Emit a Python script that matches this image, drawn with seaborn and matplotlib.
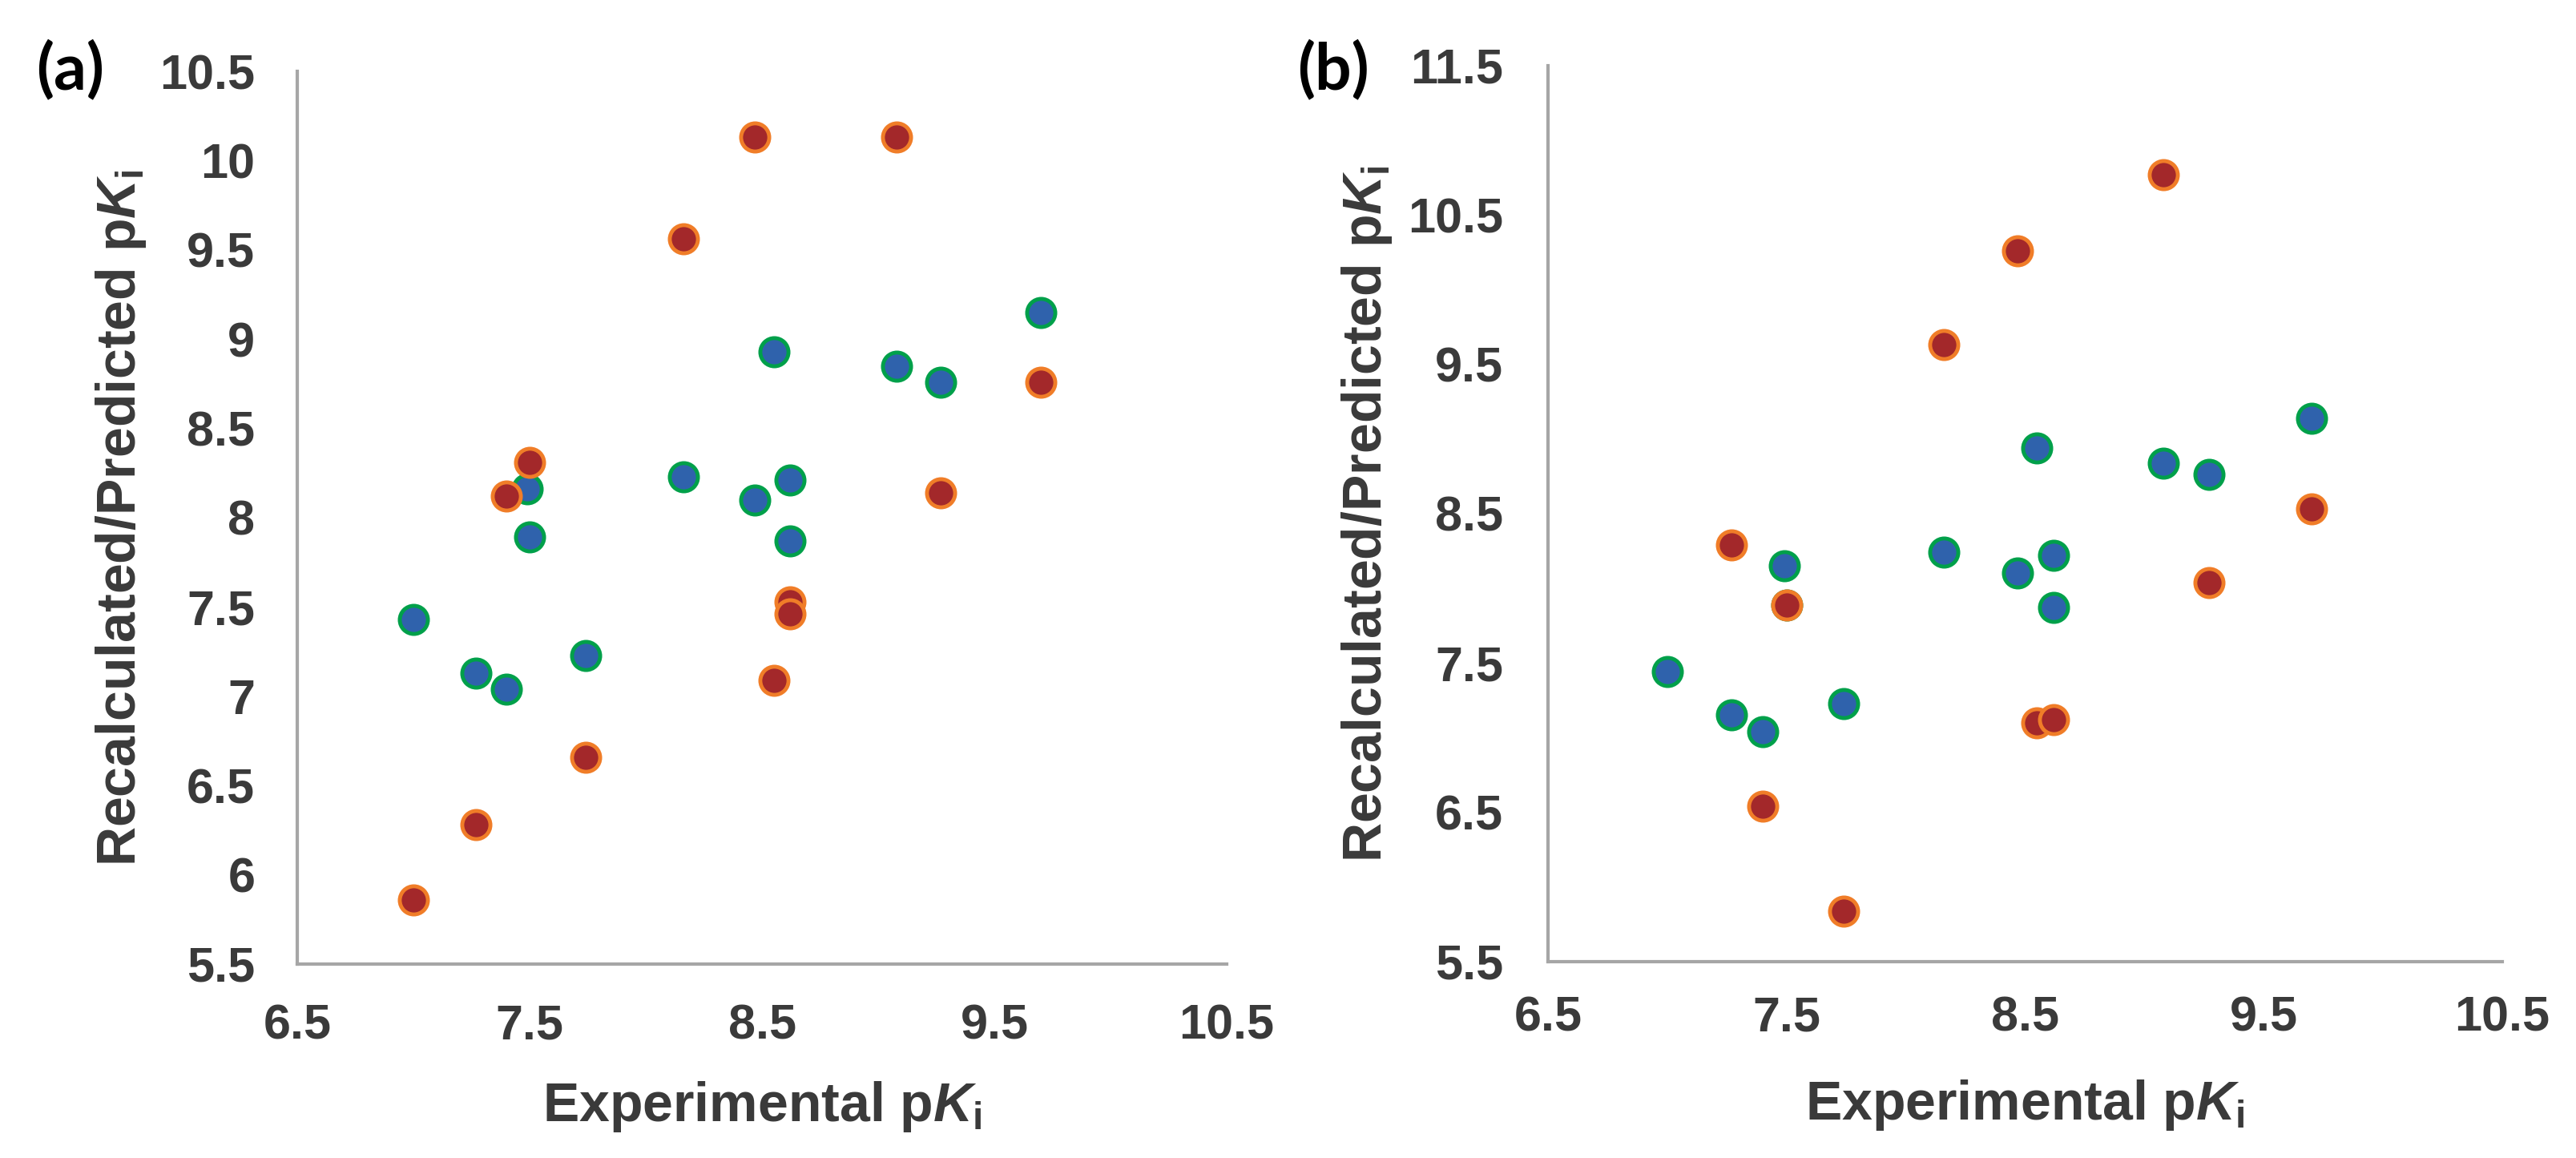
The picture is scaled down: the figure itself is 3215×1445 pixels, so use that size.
import numpy as np
import pandas as pd
import seaborn as sns
import matplotlib.pyplot as plt
from matplotlib.ticker import FuncFormatter

# panel (a) - blue / green edged points
a_blue_x = [7.00, 7.27, 7.40, 7.49, 7.50, 7.74, 8.16, 8.47, 8.55, 8.62, 8.62, 9.08, 9.27, 9.70]
a_blue_y = [7.43, 7.13, 7.04, 8.16, 7.89, 7.23, 8.23, 8.10, 8.93, 8.21, 7.87, 8.85, 8.76, 9.15]
# panel (a) - red / orange edged points
a_red_x = [7.00, 7.27, 7.40, 7.50, 7.74, 8.16, 8.47, 8.55, 8.62, 8.62, 9.08, 9.27, 9.70]
a_red_y = [5.86, 6.28, 8.12, 8.31, 6.66, 9.56, 10.13, 7.09, 7.53, 7.46, 10.13, 8.14, 8.76]

# panel (b)
b_blue_x = [7.00, 7.27, 7.40, 7.49, 7.50, 7.74, 8.16, 8.47, 8.55, 8.62, 8.62, 9.08, 9.27, 9.70]
b_blue_y = [7.44, 7.15, 7.04, 8.15, 7.89, 7.23, 8.24, 8.10, 8.94, 8.22, 7.87, 8.84, 8.76, 9.14]
b_red_x = [7.27, 7.40, 7.50, 7.74, 8.16, 8.47, 8.55, 8.62, 9.08, 9.27, 9.70]
b_red_y = [8.29, 6.54, 7.89, 5.84, 9.63, 10.26, 7.10, 7.12, 10.77, 8.04, 8.53]

x_ticks = [6.5, 7.5, 8.5, 9.5, 10.5]
a_y_ticks = [5.5, 6, 6.5, 7, 7.5, 8, 8.5, 9, 9.5, 10, 10.5]
b_y_ticks = [5.5, 6.5, 7.5, 8.5, 9.5, 10.5, 11.5]

x_label = r'Experimental p$\mathit{K}_\mathrm{i}$'
y_label = r'Recalculated/Predicted p$\mathit{K}_\mathrm{i}$'

sns.set_style('white')
plt.rcParams['font.family'] = ['Liberation Sans', 'DejaVu Sans']
plt.rcParams['font.weight'] = 'bold'
plt.rcParams['mathtext.fontset'] = 'custom'
plt.rcParams['mathtext.rm'] = 'Liberation Sans:bold'
plt.rcParams['mathtext.it'] = 'Liberation Sans:italic:bold'

txt_col = '#3a3a3a'
spine_col = '#a6a6a6'
blue_fill, blue_edge = '#2f62ac', '#00a04a'
red_fill, red_edge = '#a3282a', '#f07d28'

fig = plt.figure(figsize=(32.16, 14.45), dpi=100)


def draw_panel(ax, bx, by, rx, ry, yticks, ylim, xpad, ypad):
    sns.scatterplot(data=pd.DataFrame({'x': bx, 'y': by}), x='x', y='y', ax=ax,
                    color=blue_fill, edgecolor=blue_edge, linewidth=3.5, s=640, zorder=3)
    sns.scatterplot(data=pd.DataFrame({'x': rx, 'y': ry}), x='x', y='y', ax=ax,
                    color=red_fill, edgecolor=red_edge, linewidth=3.5, s=640, zorder=4)
    ax.set_xlim(6.5, 10.5)
    ax.set_ylim(*ylim)
    ax.set_xticks(x_ticks)
    ax.set_yticks(yticks)
    fmt = FuncFormatter(lambda v, p: '{:g}'.format(v))
    ax.xaxis.set_major_formatter(fmt)
    ax.yaxis.set_major_formatter(fmt)
    ax.tick_params(axis='x', length=0, pad=xpad, labelsize=44, labelcolor=txt_col)
    ax.tick_params(axis='y', length=0, pad=ypad, labelsize=44, labelcolor=txt_col)
    for lab in ax.get_xticklabels() + ax.get_yticklabels():
        lab.set_fontweight('bold')
    sns.despine(ax=ax)
    for side in ['left', 'bottom']:
        ax.spines[side].set_color(spine_col)
        ax.spines[side].set_linewidth(3)
    ax.set_xlabel(x_label, fontsize=49, color=txt_col, fontweight='bold', va='center')
    ax.set_ylabel(y_label, fontsize=49, color=txt_col, fontweight='bold', va='center')
    ax.xaxis.set_label_coords(0.5, -0.16)
    ax.yaxis.set_label_coords(-0.19, 0.5)


ax_a = fig.add_axes([0.1154, 0.1675, 0.3607, 0.7709])
draw_panel(ax_a, a_blue_x, a_blue_y, a_red_x, a_red_y, a_y_ticks, (5.5, 10.5), 36, 38)

ax_b = fig.add_axes([0.6007, 0.1696, 0.3703, 0.7737])
draw_panel(ax_b, b_blue_x, b_blue_y, b_red_x, b_red_y, b_y_ticks, (5.5, 11.5), 31, 40)

fig.text(0.0274, 0.939, '(a)', fontsize=58, fontweight='bold', family=['Lato', 'DejaVu Sans'],
         color='black', ha='center', va='center')
fig.text(0.5174, 0.939, '(b)', fontsize=58, fontweight='bold', family=['Lato', 'DejaVu Sans'],
         color='black', ha='center', va='center')

fig.savefig('out.png', dpi=100, facecolor='white')
